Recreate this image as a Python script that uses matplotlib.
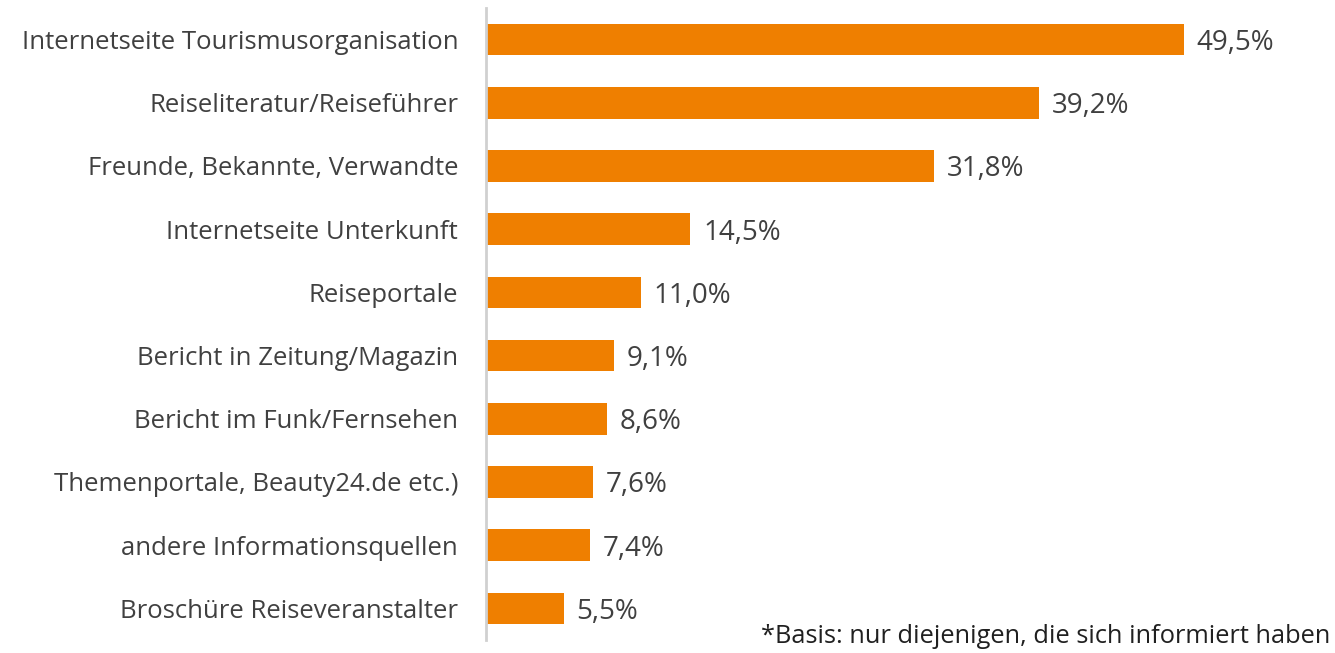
import matplotlib.pyplot as plt

categories = [
    "Internetseite Tourismusorganisation",
    "Reiseliteratur/Reiseführer",
    "Freunde, Bekannte, Verwandte",
    "Internetseite Unterkunft",
    "Reiseportale",
    "Bericht in Zeitung/Magazin",
    "Bericht im Funk/Fernsehen",
    "Themenportale, Beauty24.de etc.)",
    "andere Informationsquellen",
    "Broschüre Reiseveranstalter",
]
values = [49.5, 39.2, 31.8, 14.5, 11.0, 9.1, 8.6, 7.6, 7.4, 5.5]
footnote = "*Basis: nur diejenigen, die sich informiert haben"

plt.rcParams['font.family'] = ['Open Sans', 'DejaVu Sans']

W, H = 1335, 653
fig = plt.figure(figsize=(W / 100, H / 100), dpi=100)
ax = fig.add_axes([486 / W, 13 / H, (W - 486) / W, 632 / H])

ypos = list(range(len(categories)))
ax.barh(ypos, values, height=0.5, color="#EF7F00")
ax.set_ylim(len(categories) - 0.5, -0.5)
ax.set_xlim(0, (W - 486) / 14.1)

for y, v in zip(ypos, values):
    ax.text(v + 0.9, y, f"{v:.1f}%".replace(".", ","), va="center_baseline", ha="left",
            fontsize=20, color="#404040")

ax.set_yticks(ypos)
ax.set_yticklabels(categories, fontsize=18.5, color="#404040")
ax.tick_params(axis="y", length=0, pad=20)
ax.set_xticks([])
for s in ["top", "right", "bottom"]:
    ax.spines[s].set_visible(False)
ax.spines["left"].set_color("#D0D0D0")
ax.spines["left"].set_linewidth(2)

fig.text(1330 / W, 10 / H, footnote, ha="right", va="baseline", fontsize=18.3, color="#202020")

fig.savefig("out.png", dpi=100)
